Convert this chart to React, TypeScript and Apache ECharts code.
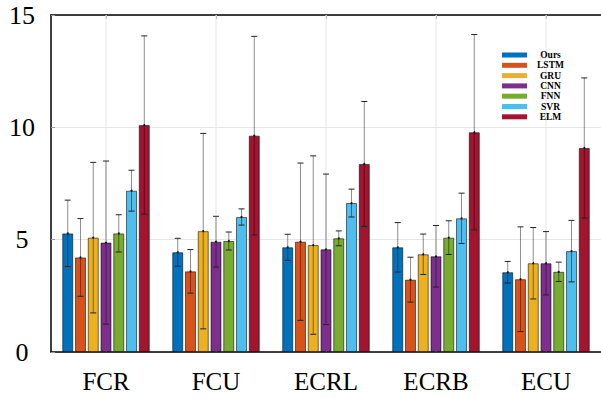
import React, { useEffect, useRef } from "react";
import * as echarts from "echarts";

const categories = ["FCR", "FCU", "ECRL", "ECRB", "ECU"];
const seriesNames = ["Ours", "LSTM", "GRU", "CNN", "FNN", "SVR", "ELM"];
const colors = ["#0072BD", "#D95319", "#EDB120", "#7E2F8E", "#77AC30", "#4DBEEE", "#A2142F"];

const ours = [5.28, 4.44, 4.66, 4.66, 3.55];
const oursStd = [1.48, 0.62, 0.58, 1.1, 0.48];
const lstm = [4.21, 3.59, 4.91, 3.22, 3.24];
const lstmStd = [1.73, 0.97, 3.5, 1.0, 2.33];
const gru = [5.09, 5.38, 4.76, 4.35, 3.95];
const gruStd = [3.35, 4.35, 3.97, 0.9, 1.59];
const cnn = [4.87, 4.91, 4.57, 4.26, 3.95];
const cnnStd = [3.63, 1.13, 3.35, 1.37, 1.41];
const fnn = [5.28, 4.94, 5.06, 5.09, 3.57];
const fnnStd = [0.83, 0.4, 0.33, 0.75, 0.43];
const svr = [7.18, 6.01, 6.63, 5.95, 4.49];
const svrStd = [0.91, 0.36, 0.62, 1.12, 1.37];
const elm = [10.1, 9.63, 8.37, 9.78, 9.08];
const elmStd = [3.97, 4.42, 2.78, 4.35, 3.12];

const yTicks = [0, 5, 10, 15];

const means = [ours, lstm, gru, cnn, fnn, svr, elm];
const stds = [oursStd, lstmStd, gruStd, cnnStd, fnnStd, svrStd, elmStd];

const BAR_W = 11;
const GAP = 0.16;
const PITCH = BAR_W * (1 + GAP);
const SERIF = "Liberation Serif";

export default function App() {
  const ref = useRef<HTMLDivElement>(null);
  useEffect(() => {
    if (!ref.current) return;
    const chart = echarts.init(ref.current, null, { renderer: "svg" });

    const errData: number[][] = [];
    means.forEach((arr, s) => {
      arr.forEach((m, c) => {
        errData.push([c, s, m - stds[s][c], m + stds[s][c], m]);
      });
    });

    const barSeries = seriesNames.map((name, s) => ({
      name,
      type: "bar",
      data: means[s],
      barWidth: BAR_W,
      barGap: GAP * 100 + "%",
      z: 2,
      itemStyle: {
        color: colors[s],
        borderColor: "rgba(0,0,0,0.55)",
        borderWidth: 1,
      },
    }));

    const option: any = {
      animation: false,
      backgroundColor: "#fff",
      grid: { left: 51, top: 15, width: 555, height: 337 },
      legend: {
        orient: "vertical",
        left: 497,
        top: 45,
        itemWidth: 25,
        itemHeight: 5,
        itemGap: 0.3,
        icon: "rect",
        itemStyle: { borderWidth: 0 },
        data: seriesNames,
        formatter: (n: string) => "{a|" + n + "}",
        textStyle: {
          fontFamily: SERIF,
          fontWeight: "bold",
          fontSize: 9.5,
          rich: {
            a: {
              fontFamily: SERIF,
              fontWeight: "bold",
              fontSize: 9.5,
              width: 37,
              align: "center",
              color: "#000",
            },
          },
        },
      },
      xAxis: [
        {
          type: "category",
          data: categories,
          position: "bottom",
          axisLine: { show: true, lineStyle: { color: "#000", width: 1.5 } },
          axisTick: { show: true, inside: true, alignWithLabel: true, length: 4, lineStyle: { color: "#999" } },
          axisLabel: { fontFamily: SERIF, fontSize: 25, color: "#000", margin: 17 },
          splitLine: { show: false },
        },
        {
          type: "category",
          data: categories,
          position: "top",
          axisLine: { show: true, lineStyle: { color: "#000", width: 1.5 } },
          axisTick: { show: true, inside: true, alignWithLabel: true, length: 4, lineStyle: { color: "#999" } },
          axisLabel: { show: false },
          splitLine: { show: false },
        },
      ],
      yAxis: {
        type: "value",
        min: yTicks[0],
        max: yTicks[yTicks.length - 1],
        interval: 5,
        axisLine: { show: true, lineStyle: { color: "#000", width: 1.5 } },
        axisTick: { show: true, inside: true, length: 4, lineStyle: { color: "#999" } },
        axisLabel: { fontFamily: SERIF, fontSize: 26, color: "#000", margin: 29, align: "center" },
        splitLine: { show: true, lineStyle: { color: "#e6e6e6", width: 1 } },
      },
      series: [
        {
          type: "custom",
          name: "vgrid",
          silent: true,
          z: 1,
          data: categories.map((_, i) => [i, 0]),
          encode: { x: 0, y: 1 },
          renderItem: (params: any, api: any) => {
            const cs = params.coordSys;
            const x = api.coord([api.value(0), 0])[0];
            return {
              type: "line",
              shape: { x1: x, y1: cs.y, x2: x, y2: cs.y + cs.height },
              style: { stroke: "#e6e6e6", lineWidth: 1 },
            };
          },
        },
        ...barSeries,
        {
          type: "custom",
          name: "err",
          silent: true,
          z: 5,
          data: errData,
          encode: { x: 0, y: [2, 3, 4] },
          renderItem: (params: any, api: any) => {
            const c = api.value(0);
            const s = api.value(1);
            const lo = api.coord([c, api.value(2)]);
            const hi = api.coord([c, api.value(3)]);
            const mid = api.coord([c, api.value(4)]);
            const x = lo[0] + (s - 3) * PITCH;
            const cap = 3;
            return {
              type: "group",
              children: [
                {
                  type: "line",
                  shape: { x1: x, y1: hi[1], x2: x, y2: lo[1] },
                  style: { stroke: "rgba(0,0,0,0.45)", lineWidth: 1 },
                },
                {
                  type: "line",
                  shape: { x1: x - cap, y1: hi[1], x2: x + cap, y2: hi[1] },
                  style: { stroke: "#222", lineWidth: 1 },
                },
                {
                  type: "line",
                  shape: { x1: x - cap, y1: lo[1], x2: x + cap, y2: lo[1] },
                  style: { stroke: "#222", lineWidth: 1 },
                },
                {
                  type: "circle",
                  shape: { cx: x, cy: mid[1], r: 1 },
                  style: { fill: "#111" },
                },
              ],
            };
          },
        },
      ],
    };
    chart.setOption(option);
    return () => chart.dispose();
  }, []);
  return (
    <div
      ref={ref}
      style={{ position: "fixed", left: 0, top: 0, width: 601, height: 398, background: "#fff" }}
    />
  );
}
